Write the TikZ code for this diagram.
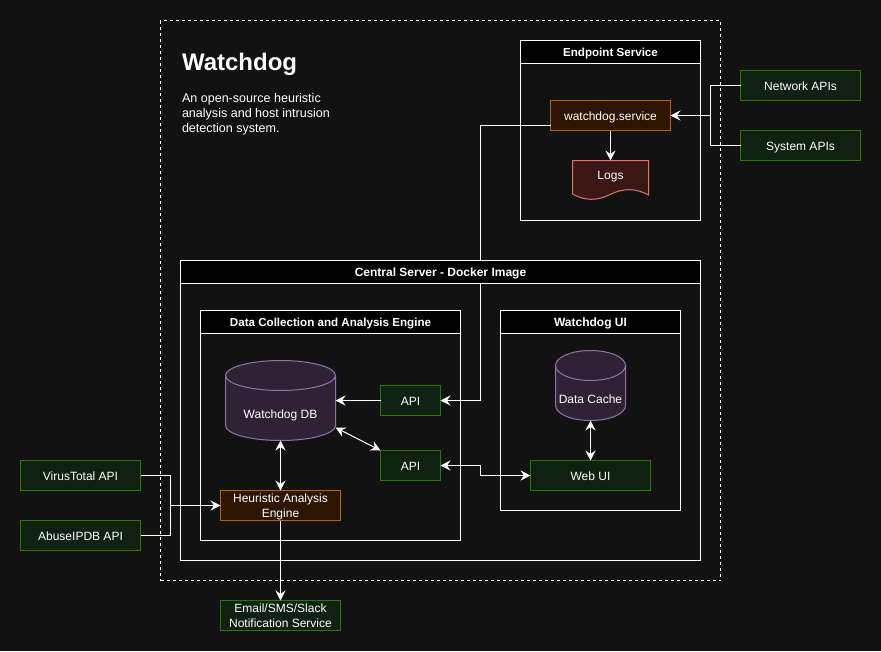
\documentclass[tikz,border=0pt]{standalone}
\usepackage{fontspec}
\setmainfont{Liberation Sans}
\usetikzlibrary{arrows.meta}
\definecolor{pagebg}{HTML}{121212}
\definecolor{greenfill}{HTML}{0F2110}
\definecolor{greenline}{HTML}{2D7600}
\definecolor{orangefill}{HTML}{2E1500}
\definecolor{orangeline}{HTML}{B46504}
\definecolor{purplefill}{HTML}{2F2235}
\definecolor{purpleline}{HTML}{9673A6}
\definecolor{redfill}{HTML}{3A1615}
\definecolor{redline}{HTML}{D9776B}
\tikzset{
  x=1pt,y=-1pt,
  txt/.style={text=white,font=\fontsize{12}{15}\selectfont,align=center,inner sep=0pt,outer sep=0pt},
  oneline/.style={text height=9pt,text depth=0pt},
  box/.style={txt,oneline,draw,line width=1pt,minimum width=120pt,minimum height=30pt},
  twolines/.style={text height=,text depth=},
  greenbox/.style={box,draw=greenline,fill=greenfill},
  orangebox/.style={box,draw=orangeline,fill=orangefill},
  frame/.style={draw=white,line width=1pt,inner sep=0pt,outer sep=0pt},
  header/.style={frame,oneline,fill=black,text=white,font=\fontsize{12}{15}\selectfont\bfseries,minimum height=23pt},
  narrowhead/.style={font=\fontsize{11.6}{15}\selectfont\bfseries},
  ghost/.style={inner sep=0pt,outer sep=0pt},
  conn/.style={draw=white,line width=1pt},
  arr/.style={conn,-{Stealth[length=10pt,width=10pt,inset=3.5pt]}},
  biarr/.style={conn,{Stealth[length=10pt,width=10pt,inset=3.5pt]}-{Stealth[length=10pt,width=10pt,inset=3.5pt]}},
  cyl/.style={draw=purpleline,fill=purplefill,line width=1pt},
}
\begin{document}
\begin{tikzpicture}
\useasboundingbox (0,0) rectangle (881,651);
\fill[pagebg] (0,0) rectangle (881,651);

% outer dashed frame
\node[ghost,draw=white,line width=1pt,dash pattern=on 3pt off 3pt,minimum width=560pt,minimum height=560pt] (outer) at (440.5,300.5) {};

% frames (bodies)
\node[frame,minimum width=180pt,minimum height=180pt] (endpoint) at (610.5,130.5) {};
\node[frame,minimum width=520pt,minimum height=300pt] (central) at (440.5,410.5) {};
\node[frame,minimum width=260pt,minimum height=230pt] (engine) at (330.5,425.5) {};
\node[frame,minimum width=180pt,minimum height=200pt] (uibox) at (590.5,410.5) {};

% title
\node[ghost,anchor=west,text=white,font=\fontsize{24}{28}\selectfont\bfseries] (title) at (182,64) {Watchdog};
\node[txt,anchor=north west,align=left,font=\fontsize{12.55}{15}\selectfont] (descr) at (182,93) {An open-source heuristic\\analysis and host intrusion\\detection system.};

% nodes
\node[orangebox] (svc) at (610.5,115.5) {watchdog.service};
\node[greenbox] (net) at (800.5,85.5) {Network APIs};
\node[greenbox] (sys) at (800.5,145.5) {System APIs};
\node[greenbox,minimum width=60pt] (apione) at (410.5,400.5) {API};
\node[greenbox,minimum width=60pt] (apitwo) at (410.5,465.5) {API};
\node[greenbox] (webui) at (590.5,475.5) {Web UI};
\node[orangebox,twolines] (heur) at (280.5,505.5) {\rule{0pt}{10.5pt}Heuristic Analysis\\Engine};
\node[greenbox,twolines] (email) at (280.5,615.5) {Email/SMS/Slack\\Notification Service};
\node[greenbox] (virus) at (80.5,475.5) {VirusTotal API};
\node[greenbox] (abuse) at (80.5,535.5) {AbuseIPDB API};

% logs document
\filldraw[redline,fill=redfill,line width=1pt] (572.5,160.5) -- (648.5,160.5) -- (648.5,195)
  .. controls (636,188) and (623,188) .. (610,194.5)
  .. controls (597,201) and (585,201) .. (572.5,194) -- cycle;
\node[ghost,minimum width=76pt,minimum height=40pt] (logs) at (610.5,180.5) {};
\node[txt,oneline] (logstext) at (610.5,174.5) {Logs};

% cylinders
\filldraw[cyl] (225.5,375.5)
  .. controls (225.5,367.2) and (250.1,360.5) .. (280.5,360.5)
  .. controls (310.9,360.5) and (335.5,367.2) .. (335.5,375.5)
  -- (335.5,425.5)
  .. controls (335.5,433.8) and (310.9,440.5) .. (280.5,440.5)
  .. controls (250.1,440.5) and (225.5,433.8) .. (225.5,425.5) -- cycle;
\draw[cyl,fill=none] (225.5,375.5)
  .. controls (225.5,383.8) and (250.1,390.5) .. (280.5,390.5)
  .. controls (310.9,390.5) and (335.5,383.8) .. (335.5,375.5);
\node[ghost,minimum width=110pt,minimum height=80pt] (db) at (280.5,400.5) {};
\node[txt,oneline] (dbtext) at (280.5,413.5) {Watchdog DB};

\filldraw[cyl] (555.5,365.5)
  .. controls (555.5,357.2) and (571.2,350.5) .. (590.5,350.5)
  .. controls (609.8,350.5) and (625.5,357.2) .. (625.5,365.5)
  -- (625.5,405.5)
  .. controls (625.5,413.8) and (609.8,420.5) .. (590.5,420.5)
  .. controls (571.2,420.5) and (555.5,413.8) .. (555.5,405.5) -- cycle;
\draw[cyl,fill=none] (555.5,365.5)
  .. controls (555.5,373.8) and (571.2,380.5) .. (590.5,380.5)
  .. controls (609.8,380.5) and (625.5,373.8) .. (625.5,365.5);
\node[ghost,minimum width=70pt,minimum height=70pt] (cache) at (590.5,385.5) {};
\node[txt,oneline] (cachetext) at (590.5,398.5) {Data Cache};

% connector way points
\coordinate (svcout) at (550.5,125.5);
\coordinate (svcbend) at (480.5,125.5);
\coordinate (apibend) at (480.5,400.5);
\coordinate (apisbus) at (710.5,115.5);
\coordinate (extbus) at (170.5,505.5);
\coordinate (uibendA) at (480.5,465.5);
\coordinate (uibendB) at (480.5,475.5);
\coordinate (dbside) at (335.5,427.5);

% connectors
\draw[arr] (svc.south) -- (logs.north);
\draw[conn] (net.west) -| (apisbus);
\draw[conn] (sys.west) -| (apisbus);
\draw[arr] (apisbus) -- (svc.east);
\draw[arr] (svcout) -- (svcbend) -- (apibend) -- (apione.east);
\draw[arr] (apione.west) -- (db.east);
\draw[biarr] (dbside) -- (apitwo.north west);
\draw[biarr] (apitwo.east) -- (uibendA) -- (uibendB) -- (webui.west);
\draw[biarr] (cache.south) -- (webui.north);
\draw[biarr] (db.south) -- (heur.north);
\draw[conn] (virus.east) -| (extbus);
\draw[conn] (abuse.east) -| (extbus);
\draw[arr] (extbus) -- (heur.west);
\draw[arr] (heur.south) -- (email.north);

% headers, on top of the lines
\node[header,narrowhead,minimum width=180pt] (endpointhead) at (610.5,52) {Endpoint Service};
\node[header,minimum width=520pt] (centralhead) at (440.5,272) {Central Server - Docker Image};
\node[header,narrowhead,minimum width=260pt] (enginehead) at (330.5,322) {Data Collection and Analysis Engine};
\node[header,minimum width=180pt] (uihead) at (590.5,322) {Watchdog UI};
\end{tikzpicture}
\end{document}
